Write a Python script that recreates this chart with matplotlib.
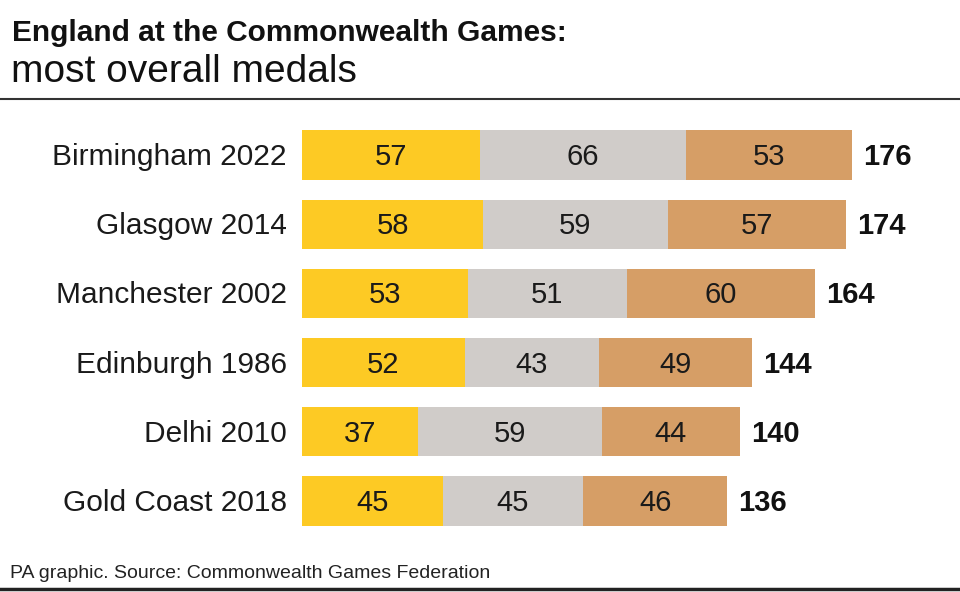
import matplotlib
matplotlib.use("Agg")
import matplotlib.pyplot as plt
from matplotlib.lines import Line2D

games = ["Birmingham 2022", "Glasgow 2014", "Manchester 2002", "Edinburgh 1986", "Delhi 2010", "Gold Coast 2018"]
gold = [57, 58, 53, 52, 37, 45]
silver = [66, 59, 51, 43, 59, 45]
bronze = [53, 57, 60, 49, 44, 46]
totals = [176, 174, 164, 144, 140, 136]

colors = {"gold": "#FDCA24", "silver": "#D0CCC9", "bronze": "#D69E66"}

plt.rcParams['font.family'] = ['Liberation Sans', 'DejaVu Sans']

W, H = 960, 592
fig = plt.figure(figsize=(W / 100, H / 100), dpi=100)

# axes: x from 302 px, 3.125 px/unit; rows spaced ~69.2 px
ax_left = 302 / W
ax_width = 625 / W
ax_top = 120.4
ax_bottom = 535.6
ax = fig.add_axes([ax_left, 1 - ax_bottom / H, ax_width, (ax_bottom - ax_top) / H])
ax.set_xlim(0, 200)
ax.set_ylim(len(games) - 0.5, -0.5)
ax.axis("off")

ys = list(range(len(games)))
bh = 0.71
left = [0] * len(games)
for series, key in ((gold, "gold"), (silver, "silver"), (bronze, "bronze")):
    ax.barh(ys, series, left=left, height=bh, color=colors[key], edgecolor="none")
    for y, l, v in zip(ys, left, series):
        ax.text(l + v / 2, y + 0.03, str(v), ha="center", va="center", fontsize=21, color="#1a1a1a")
    left = [a + b for a, b in zip(left, series)]

for y, t, name in zip(ys, totals, games):
    ax.text(t + 3.6, y + 0.03, str(t), ha="left", va="center", fontsize=21, fontweight="bold", color="#111111")
    ax.text(-4.8, y + 0.03, name, ha="right", va="center", fontsize=21.5, color="#1a1a1a")

fig.text(12 / W, 1 - 41 / H, "England at the Commonwealth Games:", fontsize=21.5, fontweight="bold",
         color="#111111", ha="left", va="baseline")
fig.text(11 / W, 1 - 82 / H, "most overall medals", fontsize=28, color="#111111", ha="left", va="baseline")

fig.add_artist(Line2D([0, 1], [1 - 99.0 / H, 1 - 99.0 / H], transform=fig.transFigure, color="#333333", lw=1.5))
fig.add_artist(Line2D([0, 1], [1 - 589 / H, 1 - 589 / H], transform=fig.transFigure, color="#222222", lw=2.5))

fig.text(10 / W, 1 - 578 / H, "PA graphic. Source: Commonwealth Games Federation", fontsize=14,
         color="#222222", ha="left", va="baseline")

fig.savefig("out.png", dpi=100, facecolor="white")
